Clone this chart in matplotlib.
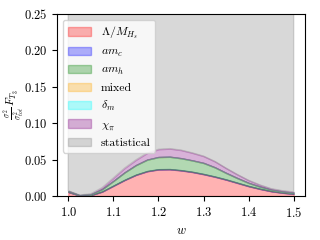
import matplotlib
matplotlib.use("Agg")
import matplotlib.pyplot as plt
import numpy as np

plt.rcParams['font.family'] = 'serif'
plt.rcParams['font.serif'] = ['cmr10']
plt.rcParams['mathtext.fontset'] = 'cm'
plt.rcParams['axes.formatter.use_mathtext'] = True
plt.rcParams['font.size'] = 9

w = [1.0, 1.025, 1.05, 1.075, 1.1, 1.125, 1.15, 1.175, 1.2, 1.225, 1.25,
     1.275, 1.3, 1.325, 1.35, 1.375, 1.4, 1.425, 1.45, 1.475, 1.5]

lam = [0.0055, 0.0008, 0.0012, 0.0060, 0.0140, 0.0220, 0.0290, 0.0340, 0.0365, 0.0367, 0.0352,
       0.0330, 0.0300, 0.0265, 0.0225, 0.0180, 0.0135, 0.0098, 0.0066, 0.0045, 0.0030]
amc = [0.0004, 0.0001, 0.0002, 0.0003, 0.0004, 0.0004, 0.0004, 0.0004, 0.0004, 0.0004, 0.0004,
       0.0004, 0.0004, 0.0004, 0.0004, 0.0004, 0.0004, 0.0003, 0.0003, 0.0003, 0.0003]
amh = [0.0008, 0.0002, 0.0010, 0.0030, 0.0062, 0.0100, 0.0130, 0.0155, 0.0166, 0.0168, 0.0163,
       0.0155, 0.0150, 0.0125, 0.0088, 0.0062, 0.0041, 0.0028, 0.0018, 0.0014, 0.0012]
mixed = [0.0001] * 21
dm = [0.0001] * 21
chi = [0.0004, 0.0001, 0.0005, 0.0020, 0.0040, 0.0058, 0.0070, 0.0090, 0.0105, 0.0110, 0.0110,
       0.0102, 0.0092, 0.0080, 0.0064, 0.0048, 0.0034, 0.0022, 0.0013, 0.0010, 0.0009]
stat = [0.3] * 21

layers = [lam, amc, amh, mixed, dm, chi, stat]
labels = [r'$\Lambda/M_{H_s}$', r'$am_c$', r'$am_h$', 'mixed', r'$\delta_m$', r'$\chi_\pi$', 'statistical']
colors = ['red', 'blue', 'green', 'orange', 'cyan', 'purple', 'grey']

fig, ax = plt.subplots(figsize=(3.2, 2.4), dpi=100)
low = np.zeros(len(w))
for vals, lab, c in zip(layers, labels, colors):
    high = low + np.array(vals)
    ax.fill_between(w, low, high, color=c, alpha=0.3, label=lab)
    low = high

ax.set_ylim(0, 0.25)
ax.set_xticks([1.0, 1.1, 1.2, 1.3, 1.4, 1.5])
ax.set_xlabel(r'$w$')
ax.set_ylabel(r'$\frac{\sigma^2}{\sigma^2_{tot}}\,F_{T_3}$', fontsize=8)
ax.yaxis.set_label_coords(-0.12, 0.5)
ax.legend(loc='upper left', fontsize=8.5)
plt.subplots_adjust(left=0.178, right=0.953, bottom=0.183, top=0.942)
plt.savefig('out.png')
